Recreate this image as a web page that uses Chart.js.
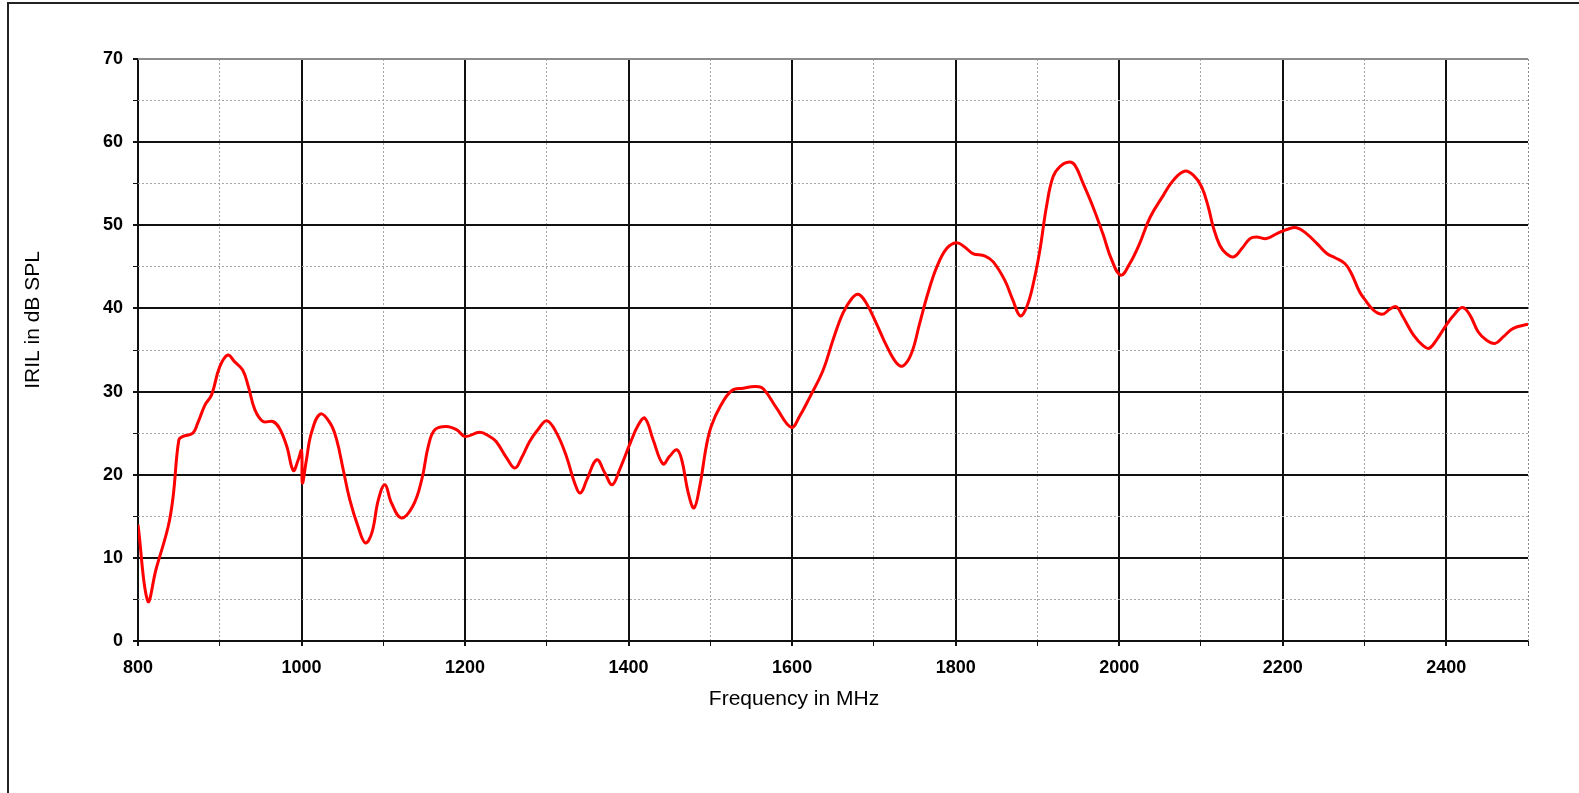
<!DOCTYPE html>
<html>
<head>
<meta charset="utf-8">
<script src="https://cdn.jsdelivr.net/npm/chart.js@4.4.1/dist/chart.umd.min.js"></script>
<style>
  html, body { margin: 0; padding: 0; background: #fff; overflow: hidden; }
  #wrap { position: relative; width: 1579px; height: 793px; }
  #frame { position: absolute; left: 7px; top: 2px; width: 1600px; height: 820px; border: 2px solid #222; box-sizing: border-box; }
  canvas { position: absolute; left: 0; top: 0; }
</style>
</head>
<body>
<div id="wrap">
  <div id="frame"></div>
  <canvas id="myChart" width="1579" height="793"></canvas>
</div>
<script>
const freq = [
  800, 812, 822, 837, 843, 850, 855, 867, 873, 882, 890, 900, 910, 918, 928, 935, 943, 953, 965, 973,
  982, 990, 996, 1000, 1001, 1006, 1012, 1023, 1035, 1043, 1051, 1059, 1069, 1078, 1086, 1094, 1102, 1110, 1122, 1136,
  1147, 1155, 1163, 1177, 1190, 1200, 1218, 1230, 1238, 1251, 1261, 1269, 1279, 1289, 1300, 1312, 1324, 1334, 1341, 1349,
  1361, 1371, 1380, 1389, 1402, 1412, 1420, 1430, 1442, 1450, 1459, 1465, 1473, 1480, 1487, 1495, 1501, 1512, 1526, 1540,
  1556, 1565, 1581, 1599, 1609, 1622, 1638, 1650, 1662, 1673, 1681, 1691, 1703, 1716, 1728, 1736, 1746, 1756, 1766, 1777,
  1789, 1801, 1811, 1821, 1836, 1846, 1860, 1870, 1879, 1887, 1895, 1903, 1911, 1919, 1928, 1939, 1946, 1956, 1968, 1980,
  1991, 2002, 2013, 2025, 2038, 2054, 2066, 2080, 2091, 2101, 2109, 2115, 2123, 2131, 2140, 2150, 2160, 2168, 2180, 2193,
  2205, 2217, 2229, 2242, 2254, 2264, 2276, 2284, 2294, 2301, 2311, 2322, 2331, 2339, 2347, 2360, 2372, 2379, 2388, 2400,
  2411, 2420, 2429, 2439, 2449, 2460, 2470, 2482, 2500
];
const iril = [
  14.0, 4.8, 8.6, 13.8, 17.4, 24.2, 24.6, 25.0, 26.2, 28.4, 29.6, 33.0, 34.4, 33.6, 32.6, 30.6, 27.8, 26.4, 26.4, 25.6,
  23.4, 20.5, 21.8, 22.9, 19.0, 21.8, 25.0, 27.3, 26.2, 24.2, 20.6, 17.0, 13.8, 11.8, 13.0, 17.0, 18.8, 16.6, 14.8, 16.2,
  19.4, 23.4, 25.4, 25.8, 25.4, 24.6, 25.1, 24.6, 24.0, 22.0, 20.8, 22.0, 24.0, 25.4, 26.5, 25.0, 22.2, 19.0, 17.8, 19.4,
  21.8, 20.2, 18.8, 20.6, 23.8, 26.0, 26.8, 24.2, 21.3, 22.2, 23.0, 21.8, 17.8, 16.0, 18.6, 23.4, 25.8, 28.2, 30.1, 30.4,
  30.6, 30.3, 28.0, 25.7, 27.0, 29.4, 32.6, 36.2, 39.4, 41.2, 41.7, 40.6, 38.2, 35.4, 33.4, 33.1, 34.6, 38.2, 41.8, 45.0,
  47.2, 47.9, 47.4, 46.6, 46.3, 45.6, 43.4, 41.0, 39.1, 40.2, 43.0, 47.0, 52.2, 55.8, 57.1, 57.6, 57.2, 55.0, 52.2, 49.0,
  45.8, 44.0, 45.4, 47.8, 51.0, 53.6, 55.4, 56.5, 56.0, 54.6, 52.2, 49.8, 47.6, 46.6, 46.2, 47.2, 48.4, 48.6, 48.4, 49.0,
  49.5, 49.7, 49.0, 47.8, 46.6, 46.1, 45.4, 44.2, 42.0, 41.0, 39.8, 39.3, 39.9, 40.2, 39.0, 36.8, 35.5, 35.2, 36.2, 38.0,
  39.4, 40.1, 39.2, 37.2, 36.2, 35.8, 36.6, 37.6, 38.1
];
const xTitle = "Frequency in MHz";
const yTitle = "IRIL in dB SPL";

const points = freq.map((f, i) => ({ x: f, y: iril[i] }));

// axis titles sit off-centre in the original, so draw them by hand
const axisTitles = {
  id: "axisTitles",
  afterDraw(chart) {
    const c = chart.ctx;
    c.save();
    c.fillStyle = "#000";
    c.font = "21px 'Liberation Sans', Arial, sans-serif";
    c.textAlign = "center";
    c.textBaseline = "middle";
    c.fillText(xTitle, 794, 699);
    c.translate(33, 320);
    c.rotate(-Math.PI / 2);
    c.fillText(yTitle, 0, 0);
    c.restore();
  }
};

function gridColor(ctx, major, edge) {
  const v = ctx.tick ? ctx.tick.value : 0;
  if (v === edge) return "#8c8c8c";
  return v % major === 0 ? "#111" : "#a6a6a6";
}

const tickFont = { family: "'Liberation Sans', Arial, sans-serif", size: 18, weight: "bold" };

const ctx = document.getElementById("myChart").getContext("2d");
const chart = new Chart(ctx, {
  type: "line",
  data: {
    datasets: [
      {
        data: points,
        borderColor: "#ff0000",
        borderWidth: 3,
        pointRadius: 0,
        tension: 0.4,
        fill: false
      }
    ]
  },
  options: {
    responsive: false,
    animation: false,
    devicePixelRatio: 1,
    layout: { padding: { left: 0, top: 59, right: 51, bottom: 0 } },
    plugins: { legend: { display: false }, tooltip: { enabled: false } },
    scales: {
      x: {
        type: "linear",
        min: 800,
        max: 2500,
        afterFit: (s) => { s.height = 152; },
        ticks: {
          stepSize: 100,
          autoSkip: false,
          maxRotation: 0,
          padding: 11,
          color: "#000",
          font: tickFont,
          callback: (v) => (v % 200 === 0 ? v : "")
        },
        grid: {
          color: (c) => gridColor(c, 200, 2500),
          lineWidth: (c) => (c.tick && c.tick.value % 200 === 0 ? 2 : 1),
          tickLength: 5,
          tickColor: "#111"
        },
        border: {
          display: false,
          dash: (c) => (c.tick && c.tick.value % 200 !== 0 ? [2, 2] : [])
        }
      },
      y: {
        min: 0,
        max: 70,
        afterFit: (s) => { s.width = 138; },
        ticks: {
          stepSize: 5,
          padding: 10,
          color: "#000",
          font: tickFont,
          callback: (v) => (v % 10 === 0 ? v : "")
        },
        grid: {
          color: (c) => gridColor(c, 10, 70),
          lineWidth: (c) => (c.tick && c.tick.value % 10 === 0 ? 2 : 1),
          tickLength: 5,
          tickColor: "#111"
        },
        border: {
          display: false,
          dash: (c) => (c.tick && c.tick.value % 10 !== 0 ? [2, 2] : [])
        }
      }
    }
  },
  plugins: [axisTitles]
});
</script>
</body>
</html>
